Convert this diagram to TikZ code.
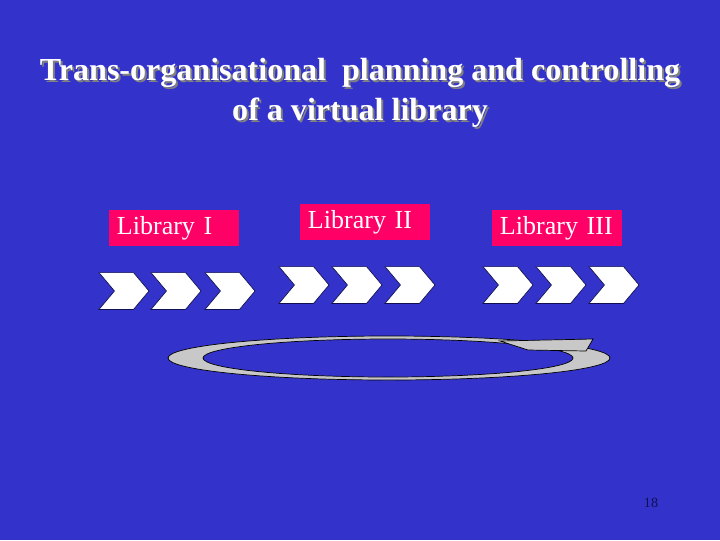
\documentclass[tikz,border=0pt]{standalone}
\usepackage{fontspec}
\setmainfont{Liberation Serif}
\usepackage{xcolor}
\usetikzlibrary{shapes.symbols}

\definecolor{slideblue}{HTML}{3333CC}
\definecolor{libpink}{HTML}{FF0066}
\definecolor{ringgray}{HTML}{C8C8C8}
\definecolor{darknavy}{HTML}{101050}

\tikzset{
  libbox/.style={fill=libpink, text=white, font=\fontsize{18.5}{20}\selectfont,
    minimum width=3.25cm, minimum height=0.9cm, text width=2.85cm, align=left,
    inner xsep=0.2cm, inner ysep=0.1cm},
  chevron/.style={signal, signal from=west, signal to=east, signal pointer angle=100,
    fill=white, draw=darknavy, line width=0.5pt, minimum width=1.25cm,
    minimum height=0.92cm, inner sep=0pt},
  titletext/.style={font=\bfseries\fontsize{22.8}{28.5}\selectfont, align=center},
}

\begin{document}
\begin{tikzpicture}[x=0.025cm, y=-0.025cm]
        % Background
        \fill[slideblue] (0,0) rectangle (720,540);
        \useasboundingbox (0,0) rectangle (720,540);

        % Title
        \node[titletext, text=gray] at (362,95)
          {Trans-organisational\ \ planning and controlling\\of a virtual library};
        \node (title) [titletext, text=white] at (360,93)
          {Trans-organisational\ \ planning and controlling\\of a virtual library};

        % Libraries
        \node[libbox] (lib1) at (174,228) {Library I};
        \node[libbox] (lib2) at (365,222) {Library II};
        \node[libbox] (lib3) at (557,228) {Library III};

        % Processes of Library I
        \node[chevron] (p11) at (124,291) {};
        \node[chevron] (p12) at (176,291) {};
        \node[chevron] (p13) at (230,291) {};

        % Processes of Library II
        \node[chevron] (p21) at (304,285) {};
        \node[chevron] (p22) at (357,285) {};
        \node[chevron] (p23) at (410,285) {};

        % Processes of Library III
        \node[chevron] (p31) at (508,285) {};
        \node[chevron] (p32) at (561,285) {};
        \node[chevron] (p33) at (614,285) {};

        % Control loop
        \fill[ringgray, even odd rule, draw=black, line width=0.5pt]
          (389,358) ellipse [x radius=221, y radius=22]
          (388,358) ellipse [x radius=185, y radius=19];
        \fill[ringgray, draw=black, line width=0.5pt]
          (500,341) -- (593,339) -- (586,351) -- (528,350) -- cycle;

        % Page number
        \node (page) [text=darknavy, font=\fontsize{10}{12}\selectfont] at (651,503) {18};
\end{tikzpicture}
\end{document}
